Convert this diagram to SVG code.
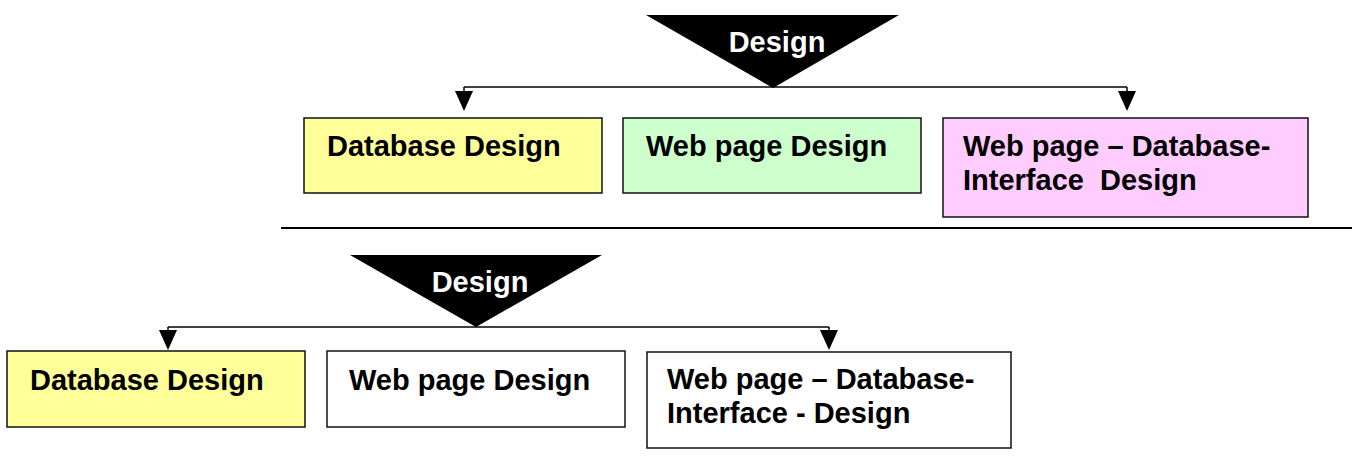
<svg xmlns="http://www.w3.org/2000/svg" width="1357" height="463" viewBox="0 0 1357 463">
<style>
.box{stroke:#111;stroke-width:1.5}
.t{font-family:"Liberation Sans",Arial,sans-serif;font-weight:bold;font-size:29px;fill:#000}
.tw{font-family:"Liberation Sans",Arial,sans-serif;font-weight:bold;font-size:29px;fill:#fff;text-anchor:middle}
.ln{stroke:#000;stroke-width:1.5;fill:none}
</style>
<defs>
<marker id="ah" viewBox="0 0 18 20" refX="9" refY="20" markerWidth="18" markerHeight="20" markerUnits="userSpaceOnUse" orient="auto-start-reverse">
<path d="M0,0 L18,0 L9,20 Z" fill="#000"/>
</marker>
</defs>
<rect width="1357" height="463" fill="#fff"/>
<g id="connectors">
<path class="ln" d="M464,87 H1127"/>
<path class="ln" d="M464,87 V91"/>
<path class="ln" d="M1127,87 V91"/>
<path d="M455,91 L473,91 L464,111 Z" fill="#000"/>
<path d="M1118,91 L1136,91 L1127,111 Z" fill="#000"/>
<path class="ln" d="M168,327 H829"/>
<path class="ln" d="M168,327 V330"/>
<path class="ln" d="M829,327 V330"/>
<path d="M159,330 L177,330 L168,350 Z" fill="#000"/>
<path d="M820,330 L838,330 L829,350 Z" fill="#000"/>
</g>
<line x1="281" y1="228" x2="1352" y2="228" stroke="#000" stroke-width="2"/>
<g id="design-top">
<polygon points="646,15 899,15 773,88" fill="#000"/>
<text class="tw" x="777" y="52">Design</text>
</g>
<g id="db-top">
<rect class="box" x="304" y="118" width="298" height="75" fill="#FFFF99"/>
<text class="t" x="327" y="156">Database Design</text>
</g>
<g id="web-top">
<rect class="box" x="623" y="118" width="298" height="75" fill="#CCFFCC"/>
<text class="t" x="646" y="156">Web page Design</text>
</g>
<g id="iface-top">
<rect class="box" x="943" y="118" width="365" height="99" fill="#FFCCFF"/>
<text class="t" x="963" y="156">Web page – Database-</text>
<text class="t" x="963" y="190" xml:space="preserve">Interface  Design</text>
</g>
<g id="design-bottom">
<polygon points="350,255 602,255 476,327" fill="#000"/>
<text class="tw" x="480" y="292">Design</text>
</g>
<g id="db-bottom">
<rect class="box" x="7" y="351" width="298" height="76" fill="#FFFF99"/>
<text class="t" x="30" y="390">Database Design</text>
</g>
<g id="web-bottom">
<rect class="box" x="327" y="351" width="298" height="76" fill="#fff"/>
<text class="t" x="349" y="390">Web page Design</text>
</g>
<g id="iface-bottom">
<rect class="box" x="647" y="352" width="364" height="96" fill="#fff"/>
<text class="t" x="667" y="389">Web page – Database-</text>
<text class="t" x="667" y="423">Interface - Design</text>
</g>
</svg>
